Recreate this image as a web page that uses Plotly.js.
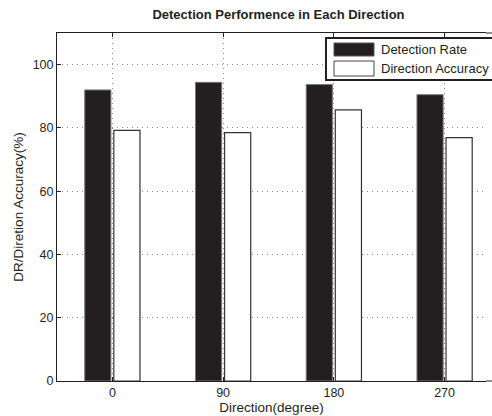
<!DOCTYPE html>
<html><head><meta charset="utf-8">
<script src="https://cdn.plot.ly/plotly-3.0.1.min.js"></script>
<style>html,body{margin:0;padding:0;overflow:hidden;background:#fff}#c{width:492px;height:416px}</style>
</head><body><div id="c"></div>
<script>
const directions = ['0','90','180','270'];
const positions = [1,2,3,4];
const seriesNames = ['Detection Rate','Direction Accuracy'];
const detectionRate = [92.0, 94.4, 93.7, 90.5];
const directionAccuracy = [79.2, 78.5, 85.7, 76.9];

const font = 'Arial, "Liberation Sans", Helvetica, sans-serif';
const ink = '#231f20';

const traces = [
  {type:'bar', x:positions, y:detectionRate, name:seriesNames[0],
   marker:{color:ink, line:{color:'#777', width:1}}, showlegend:false},
  {type:'bar', x:positions, y:directionAccuracy, name:seriesNames[1],
   marker:{color:'#ffffff', line:{color:'#333', width:1.2}}, showlegend:false}
];

// plot area 57..486 px; 110.75 px per category
const layout = {
  width:492, height:416,
  margin:{l:57, r:6, t:33, b:35},
  paper_bgcolor:'#fff', plot_bgcolor:'#fff',
  font:{family:font, color:ink, size:12.5},
  barmode:'group', bargap:0.475, bargroupgap:0.1,
  title:{text:'<b>Detection Performence in Each Direction</b>', font:{size:13, color:ink, family:font},
         x:0.566, xref:'container', xanchor:'center', y:1, yref:'container', yanchor:'top', pad:{t:10}},
  xaxis:{range:[0.5,4.374], tickvals:positions, ticktext:directions,
         showline:true, linecolor:ink, linewidth:1, mirror:'ticks',
         ticks:'inside', ticklen:4, tickcolor:ink,
         showgrid:true, gridcolor:'#888', griddash:'1px,4px', gridwidth:1, zeroline:false,
         title:{text:'Direction(degree)', font:{size:13.5, color:ink}, standoff:1},
         tickfont:{size:12.5, color:ink}},
  yaxis:{range:[0,110], tickvals:[0,20,40,60,80,100],
         showline:true, linecolor:ink, linewidth:1, mirror:false,
         ticks:'inside', ticklen:4, tickcolor:ink,
         showgrid:true, gridcolor:'#888', griddash:'1px,4px', gridwidth:1, zeroline:false,
         title:{text:'DR/Diretion Accuracy(%)', font:{size:13.5, color:ink}, standoff:5},
         tickfont:{size:12.5, color:ink}},
  shapes:[
    {type:'line', xref:'paper', yref:'paper', x0:1, x1:1.02, y0:1, y1:1,
     line:{color:ink, width:1}, layer:'above'},
    {type:'line', xref:'paper', yref:'paper', x0:1, x1:1.02, y0:0, y1:0,
     line:{color:ink, width:1}, layer:'above'},
    {type:'rect', xref:'paper', yref:'paper', x0:0.627, x1:1.05, y0:0.865, y1:0.9856,
     fillcolor:'#fff', line:{color:ink, width:2}, layer:'above'},
    {type:'rect', xref:'paper', yref:'paper', x0:0.6457, x1:0.7389, y0:0.9339, y1:0.9713,
     fillcolor:ink, line:{color:'#555', width:1}, layer:'above'},
    {type:'rect', xref:'paper', yref:'paper', x0:0.6457, x1:0.7389, y0:0.8764, y1:0.9195,
     fillcolor:'#fff', line:{color:'#444', width:1}, layer:'above'}
  ],
  annotations:[
    {xref:'paper', yref:'paper', x:0.7506, y:0.9526, xanchor:'left', yanchor:'middle',
     text:seriesNames[0], showarrow:false, font:{size:13, color:ink}},
    {xref:'paper', yref:'paper', x:0.7506, y:0.898, xanchor:'left', yanchor:'middle',
     text:seriesNames[1], showarrow:false, font:{size:13, color:ink}}
  ]
};
Plotly.newPlot('c', traces, layout, {displayModeBar:false, staticPlot:true});
</script></body></html>
